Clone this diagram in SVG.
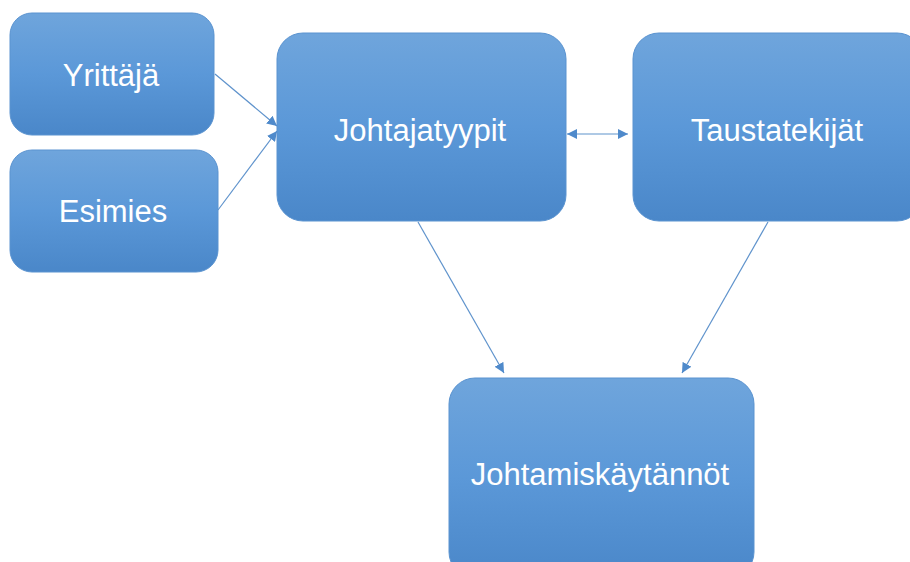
<svg xmlns="http://www.w3.org/2000/svg" width="910" height="562" viewBox="0 0 910 562">
<defs>
<linearGradient id="g" x1="0" y1="0" x2="0" y2="1">
<stop offset="0" stop-color="#6fa5dc"/>
<stop offset="0.5" stop-color="#5b98d8"/>
<stop offset="1" stop-color="#4a87c9"/>
</linearGradient>
<marker id="ah" viewBox="0 0 10 10" refX="10" refY="5" markerWidth="10" markerHeight="10" markerUnits="userSpaceOnUse" orient="auto-start-reverse">
<path d="M0,0 L10,5 L0,10 z" fill="#4f8acb"/>
</marker>
<style>
.box{fill:url(#g);stroke:#5a93d0;stroke-width:1}
.lbl{font-family:"Liberation Sans",Arial,sans-serif;font-size:31px;fill:#ffffff;text-anchor:middle}
.con{stroke:#5f93cc;stroke-width:1.2;fill:none;marker-end:url(#ah)}
</style>
</defs>
<rect width="910" height="562" fill="#ffffff"/>
<g id="yrittaja"><rect class="box" x="10" y="13" width="204" height="122" rx="22"/><text class="lbl" x="111" y="86">Yrittäjä</text></g>
<g id="esimies"><rect class="box" x="10" y="150" width="208" height="122" rx="22"/><text class="lbl" x="113" y="222">Esimies</text></g>
<g id="johtajatyypit"><rect class="box" x="277" y="33" width="289" height="188" rx="26"/><text class="lbl" x="420" y="141">Johtajatyypit</text></g>
<g id="taustatekijat"><rect class="box" x="633" y="33" width="290" height="188" rx="26"/><text class="lbl" x="777" y="141">Taustatekijät</text></g>
<g id="johtamiskaytannot"><rect class="box" x="449" y="378" width="305" height="200" rx="26"/><text class="lbl" x="600" y="485">Johtamiskäytännöt</text></g>
<g id="connectors">
<line class="con" x1="215" y1="74" x2="277" y2="126"/>
<line class="con" x1="218" y1="210" x2="277" y2="131"/>
<line class="con" x1="567" y1="134" x2="628" y2="134" marker-start="url(#ah)"/>
<line class="con" x1="418" y1="222" x2="504" y2="373"/>
<line class="con" x1="768" y1="222" x2="682" y2="373"/>
</g>
</svg>
